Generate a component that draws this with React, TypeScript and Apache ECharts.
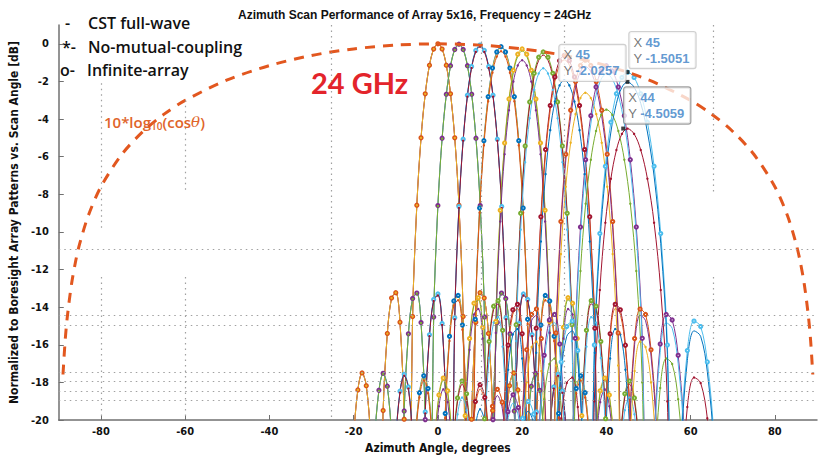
import React, { useEffect, useRef } from 'react';
import * as echarts from 'echarts';

// ---- data ----
const scanAngles = [0, 5, 10, 15, 20, 25, 30, 35, 40, 45];
const peakInfinite = [0, -0.02, -0.07, -0.15, -0.27, -0.43, -0.62, -0.87, -1.16, -1.51];
const peakCST = [0, -0.03, -0.1, -0.2, -0.38, -0.6, -0.85, -1.2, -1.6, -2.03];
const peakNoCoupling = [0, -0.05, -0.15, -0.4, -0.87, -1.3, -1.93, -2.6, -3.5, -4.51];
// beam widening (left / right of the scan angle)
const stretchLeft = [1, 1.0, 1.0, 1.02, 1.04, 1.07, 1.11, 1.16, 1.23, 1.31];
const stretchRight = [1, 1.01, 1.03, 1.05, 1.09, 1.14, 1.21, 1.3, 1.42, 1.58];
const rightExtent = [26, 26, 26, 26, 26, 26, 15, 15, 15, 15];
// boresight beam shape, read from the 0 deg beam (offset in degrees -> dB)
const beamOffsets = [0, 1, 2, 3, 4, 5, 6, 7, 8, 9, 10, 11, 12, 13, 14, 15, 16, 17, 18, 19, 20, 21, 22, 23, 24, 25, 26];
const beamShapeDb = [0, -0.28, -1.14, -2.66, -5.0, -8.58, -14.5, -31.8, -19.96, -14.8, -13.23, -13.52, -15.4, -19.5, -29.3, -29.2, -20.97, -18.18, -17.5, -18.4, -20.98, -26.5, -35, -27.5, -22.5, -20.5, -20.15];
// 10*log10(cos(theta)) envelope
const envAngles = [-89, -88.5, -88, -87, -86, -85, -83, -80, -75, -70, -65, -60, -50, -40, -30, -20, -10, 0, 10, 20, 30, 40, 50, 60, 65, 70, 75, 80, 83, 85, 86, 87, 88, 88.5, 89];
const envValues = [-17.58, -15.82, -14.57, -12.81, -11.56, -10.6, -9.14, -7.6, -5.87, -4.66, -3.74, -3.01, -1.92, -1.16, -0.62, -0.27, -0.07, 0, -0.07, -0.27, -0.62, -1.16, -1.92, -3.01, -3.74, -4.66, -5.87, -7.6, -9.14, -10.6, -11.56, -12.81, -14.57, -15.82, -17.58];
// data tips
const tipX = [45, 45, 44];
const tipY = [-2.0257, -1.5051, -4.5059];
// ticks
const xTicks = [-80, -60, -40, -20, 0, 20, 40, 60, 80];
const yTicks = [-20, -18, -16, -14, -12, -10, -8, -6, -4, -2, 0];
// dotted reference lines
const hDotted = [-10.94, -14.44, -14.95, -17.45, -17.96, -18.49, -18.95];
const vDotted = [
  [-80, -2.1, -9.9], [-80, -12.4, -20], [-60, -3, -7.9], [-60, -12.4, -20],
  [-25.2, 1, -20], [10.2, 1, -20], [30, 1, -20], [65.4, 1, -7.9], [65.4, -12.4, -17],
];

const COLORS = ['#0072BD', '#D95319', '#EDB120', '#7E2F8E', '#77AC30', '#4DBEEE', '#A2142F'];

function beamPoints(k: number, peak: number) {
  const pts: number[][] = [];
  for (let i = beamOffsets.length - 1; i >= 1; i--) {
    pts.push([+(scanAngles[k] - beamOffsets[i] * stretchLeft[k]).toFixed(3), +(beamShapeDb[i] + peak).toFixed(3)]);
  }
  for (let i = 0; i < beamOffsets.length; i++) {
    if (beamOffsets[i] > rightExtent[k]) break;
    pts.push([+(scanAngles[k] + beamOffsets[i] * stretchRight[k]).toFixed(3), +(beamShapeDb[i] + peak).toFixed(3)]);
  }
  return pts;
}

const models = [
  { name: 'Infinite-array', peaks: peakInfinite, shift: 1, symbol: 'emptyCircle', size: 3.2 },
  { name: 'CST full-wave', peaks: peakCST, shift: 3, symbol: 'none', size: 0 },
  { name: 'No-mutual-coupling', peaks: peakNoCoupling, shift: 2, symbol: 'circle', size: 2.4 },
];

const AXIS_FONT = '"Liberation Sans Narrow", "DejaVu Sans Condensed", "Liberation Sans", sans-serif';
const LEG_FONT = '"Open Sans", Lato, sans-serif';

export default function App() {
  const ref = useRef<HTMLDivElement>(null);
  useEffect(() => {
    document.body.style.margin = '0';
    const chart = echarts.init(ref.current!, null, { renderer: 'svg' });
    const series: any[] = [];
    scanAngles.forEach((_, k) => {
      models.forEach((m) => {
        series.push({
          type: 'line',
          name: m.name + ' ' + scanAngles[k],
          data: beamPoints(k, m.peaks[k]),
          smooth: 0.35,
          symbol: m.symbol,
          symbolSize: m.size,
          showSymbol: m.symbol !== 'none',
          showAllSymbol: true,
          color: COLORS[(2 * k + m.shift) % 7],
          lineStyle: { width: 1 },
          itemStyle: { borderWidth: 0.8 },
          z: 2,
        });
      });
    });
    const markData: any[] = [];
    hDotted.forEach((y) => markData.push([{ coord: [-90, y] }, { coord: [90, y] }]));
    vDotted.forEach(([x, y1, y2]) => markData.push([{ coord: [x, y1] }, { coord: [x, y2] }]));
    series.unshift({
      type: 'line',
      name: 'dotted',
      data: [],
      silent: true,
      markLine: {
        silent: true,
        symbol: 'none',
        label: { show: false },
        lineStyle: { type: [1.5, 4], color: '#a0a0a0', width: 1.2 },
        data: markData,
      },
      z: 1,
    });
    series.push({
      type: 'line',
      name: 'envelope',
      data: envAngles.map((a, i) => [a, envValues[i]]),
      smooth: 0.3,
      showSymbol: false,
      lineStyle: { color: '#E2571F', width: 3, type: [10, 8] },
      z: 4,
    });
    const tipLabels = [
      { pos: [-66, -35], border: '#c4c4c4' },
      { pos: [4, -38], border: '#c4c4c4' },
      { pos: [3, -39], border: '#8a8a8a' },
    ];
    series.push({
      type: 'scatter',
      name: 'tips',
      symbol: 'rect',
      symbolSize: 4,
      itemStyle: { color: '#111' },
      z: 6,
      data: tipX.map((x, i) => ({
        value: [x, tipY[i]],
        label: {
          show: true,
          position: tipLabels[i].pos,
          formatter: '{k|X} {v|' + x + '}\n{k|Y} {v|' + tipY[i] + '}',
          backgroundColor: 'rgba(255,255,255,0.95)',
          borderColor: tipLabels[i].border,
          borderWidth: 1.2,
          borderRadius: 2,
          padding: [2, 4, 2, 4],
          width: 58,
          rich: {
            k: { fontSize: 13, color: '#555', lineHeight: 16, fontFamily: 'Liberation Sans' },
            v: { fontSize: 13, color: '#3a7fc6', lineHeight: 16, fontWeight: 'bold', fontFamily: 'Liberation Sans' },
          },
        },
      })),
    });

    chart.setOption({
      animation: false,
      backgroundColor: '#fff',
      title: {
        text: 'Azimuth Scan Performance of Array 5x16, Frequency = 24GHz',
        left: 233,
        top: 4,
        textStyle: { fontSize: 12, fontWeight: 'bold', color: '#111', fontFamily: 'Liberation Sans' },
      },
      grid: { left: 51, right: 10, top: 25, bottom: 42 },
      xAxis: {
        type: 'value',
        min: -90,
        max: 90,
        name: 'Azimuth Angle, degrees',
        nameLocation: 'middle',
        nameGap: 22,
        nameTextStyle: { fontSize: 12, fontWeight: 'bold', color: '#111', fontFamily: AXIS_FONT, verticalAlign: 'top' },
        axisLine: { onZero: false, lineStyle: { color: '#707070', width: 1.5 } },
        axisTick: { inside: true, length: 5, customValues: xTicks, lineStyle: { color: '#707070' } },
        axisLabel: { customValues: xTicks, margin: 6, fontSize: 11, fontWeight: 'bold', color: '#111', fontFamily: AXIS_FONT },
        splitLine: { show: false },
      },
      yAxis: {
        type: 'value',
        min: -20,
        max: 1,
        name: 'Normalized to Boresight Array Patterns vs. Scan Angle [dB]',
        nameLocation: 'middle',
        nameGap: 34,
        nameTextStyle: { fontSize: 12, fontWeight: 'bold', color: '#111', fontFamily: AXIS_FONT },
        axisLine: { show: true, onZero: false, lineStyle: { color: '#707070', width: 1.5 } },
        axisTick: { show: true, inside: true, length: 5, customValues: yTicks, lineStyle: { color: '#707070' } },
        axisLabel: { customValues: yTicks, margin: 10, fontSize: 11, fontWeight: 'bold', color: '#111', fontFamily: AXIS_FONT },
        splitLine: { show: false },
      },
      graphic: [
        { type: 'text', x: 65, y: 23, style: { text: '-', fontSize: 16, fontWeight: 600, fill: '#111', fontFamily: LEG_FONT, verticalAlign: 'middle' } },
        { type: 'text', x: 88, y: 23, style: { text: 'CST full-wave', fontSize: 16, fontWeight: 600, fill: '#111', fontFamily: LEG_FONT, verticalAlign: 'middle' } },
        { type: 'text', x: 62, y: 47, style: { text: '*-', fontSize: 16, fontWeight: 600, fill: '#111', fontFamily: LEG_FONT, verticalAlign: 'middle' } },
        { type: 'text', x: 88, y: 47, style: { text: 'No-mutual-coupling', fontSize: 16, fontWeight: 600, fill: '#111', fontFamily: LEG_FONT, verticalAlign: 'middle' } },
        { type: 'text', x: 60, y: 70, style: { text: 'o-', fontSize: 16, fontWeight: 600, fill: '#111', fontFamily: LEG_FONT, verticalAlign: 'middle' } },
        { type: 'text', x: 87, y: 70, style: { text: 'Infinite-array', fontSize: 16, fontWeight: 600, fill: '#111', fontFamily: LEG_FONT, verticalAlign: 'middle' } },
        { type: 'text', x: 311, y: 82, z: 10, style: { text: '24 GHz', fontSize: 29, fontWeight: 'bold', fill: '#E3242B', fontFamily: 'Lato', verticalAlign: 'middle' } },
        {
          type: 'text', x: 104, y: 122, z: 10,
          style: {
            text: '{a|10*log}{s|10}{a|(cos}{i|θ}{a|)}',
            verticalAlign: 'middle',
            rich: {
              a: { fontSize: 15, fill: '#E0642A', fontFamily: LEG_FONT, fontWeight: 600 },
              s: { fontSize: 10, fill: '#E0642A', fontFamily: LEG_FONT, fontWeight: 600, padding: [8, 0, 0, 0] },
              i: { fontSize: 15, fill: '#E0642A', fontFamily: 'DejaVu Serif', fontStyle: 'italic' },
            },
          },
        },
      ],
      series,
    });
    return () => chart.dispose();
  }, []);
  return <div ref={ref} style={{ width: 827, height: 462 }} />;
}
